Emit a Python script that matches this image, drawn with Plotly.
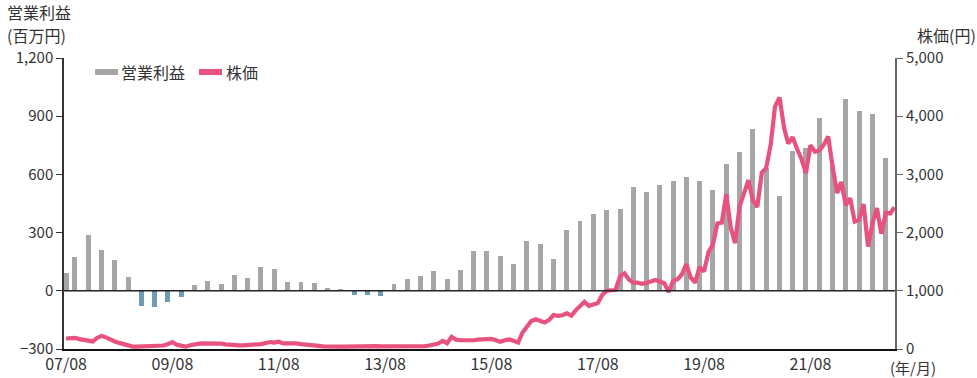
import pandas as pd
import plotly.graph_objects as go

# 営業利益 (百万円): first period 2007/08, then quarterly
profit_dates = [pd.Timestamp("2007-08-01")] + list(
    pd.date_range("2007-10-01", periods=62, freq="QS-JAN")
)
op_profit = [
    90, 175, 290, 210, 160, 70, -77, -82, -57, -31,
    31, 52, 36, 82, 67, 124, 113, 46, 46, 41,
    15, 5, -24, -22, -29, 36, 62, 77, 103, 62,
    108, 203, 203, 180, 139, 258, 242, 165, 314, 361,
    397, 418, 423, 536, 510, 546, 567, 588, 567, 521,
    655, 716, 835, 635, 490, 722, 735, 892, 650, 990,
    928, 912, 686,
]

# 株価 (円): monthly from 2007/08
price_dates = pd.date_range("2007-08-01", periods=188, freq="MS")
stock_price = [
    180, 185, 190, 170, 155, 140, 130, 190, 225, 200,
    160, 130, 105, 80, 55, 42, 40, 42, 45, 50,
    55, 60, 60, 85, 120, 70, 50, 40, 65, 85,
    92, 95, 98, 98, 95, 92, 80, 70, 65, 62,
    62, 65, 75, 80, 85, 100, 120, 110, 125, 95,
    100, 105, 95, 85, 80, 80, 70, 55, 45, 40,
    42, 40, 40, 42, 45, 42, 40, 40, 45, 50,
    48, 45, 45, 42, 40, 40, 42, 40, 40, 42,
    45, 50, 60, 80, 95, 140, 100, 210, 160, 150,
    148, 145, 150, 160, 165, 170, 175, 150, 125, 150,
    165, 140, 110, 280, 380, 480, 510, 490, 455, 500,
    584, 570, 580, 613, 575, 660, 740, 810, 740, 765,
    790, 930, 1000, 1010, 1014, 1250, 1300, 1200, 1140, 1140,
    1120, 1135, 1160, 1185, 1160, 1130, 980, 1170, 1200, 1280,
    1460, 1230, 1140, 1410, 1330, 1670, 1790, 2160, 2170, 2660,
    2080, 1820, 2445, 2650, 2900, 2560, 2440, 3030, 3110, 3510,
    4170, 4320, 3800, 3530, 3640, 3440, 3260, 3020, 3500, 3390,
    3410, 3510, 3650, 3120, 2680, 2870, 2470, 2590, 2190, 2220,
    2490, 1760, 2160, 2420, 1980, 2340, 2330, 2435,
]

tick_dates = [f"20{y:02d}-08-01" for y in range(7, 22, 2)]
tick_text = [f"{y:02d}/08" for y in range(7, 22, 2)]

GRAY = "#a6a6a6"
NEG = "#6e9cb5"
PINK = "#e8527f"
TEXT = "#333333"
FONT = "Noto Sans CJK JP"

fig = go.Figure()
fig.add_trace(go.Bar(
    x=profit_dates, y=op_profit,
    marker=dict(color=[GRAY if v >= 0 else NEG for v in op_profit], line=dict(width=0)),
    width=34 * 86400000,
    showlegend=False,
))
fig.add_trace(go.Scatter(
    x=price_dates, y=stock_price, yaxis="y2", mode="lines",
    line=dict(color=PINK, width=4.2, shape="linear"),
    showlegend=False,
))

fig.update_layout(
    width=977, height=378,
    margin=dict(l=64, r=82, t=58, b=29),
    paper_bgcolor="white", plot_bgcolor="white",
    font=dict(family=FONT, color=TEXT, size=15),
    bargap=0,
    xaxis=dict(
        type="date", range=["2007-07-18", "2023-03-05"],
        tickmode="array", tickvals=tick_dates, ticktext=tick_text,
        showgrid=False, zeroline=False, automargin=False,
        showline=True, linecolor="#111111", linewidth=1.5,
        ticks="", tickfont=dict(size=16),
    ),
    yaxis=dict(
        range=[-300, 1200], tickvals=[-300, 0, 300, 600, 900, 1200],
        tickformat=",", showgrid=False, zeroline=False, automargin=False,
        showline=True, linecolor="#333333", linewidth=1.5,
        ticks="outside", ticklen=6, tickcolor="#333333", tickwidth=1,
        tickfont=dict(size=15),
    ),
    yaxis2=dict(
        overlaying="y", side="right",
        range=[0, 5000], tickvals=[0, 1000, 2000, 3000, 4000, 5000],
        tickformat=",", showgrid=False, zeroline=False, automargin=False,
        showline=True, linecolor="#666666", linewidth=2,
        ticks="outside", ticklen=6, tickcolor="#666666", tickwidth=1,
        tickfont=dict(size=15),
    ),
)

# baseline of the profit axis
fig.add_shape(type="line", xref="paper", x0=0, x1=1, yref="y", y0=0, y1=0,
              line=dict(color="#222222", width=1.5), layer="above")


def px_x(p):
    return (p - 64) / 831


def px_y(p):
    return (349 - p) / 291


# legend keys
fig.add_shape(type="rect", xref="paper", yref="paper",
              x0=px_x(95), x1=px_x(118), y0=px_y(75), y1=px_y(69),
              fillcolor=GRAY, line=dict(width=0))
fig.add_shape(type="rect", xref="paper", yref="paper",
              x0=px_x(199), x1=px_x(222), y0=px_y(75), y1=px_y(69),
              fillcolor=PINK, line=dict(width=0))

labels = [
    ("営業利益", 121, 72, "left", 16),
    ("株価", 226, 72, "left", 16),
    ("営業利益", 7, 12, "left", 16),
    ("(百万円)", 7, 35, "left", 16),
    ("株価(円)", 976, 35, "right", 16),
    ("(年/月)", 890, 367.5, "left", 15),
]
for text, x, y, xanchor, size in labels:
    fig.add_annotation(text=text, xref="paper", yref="paper",
                       x=px_x(x), y=px_y(y), xanchor=xanchor, yanchor="middle",
                       borderpad=0, borderwidth=0,
                       showarrow=False, font=dict(size=size, color=TEXT, family=FONT))

fig.write_html("out.html")
